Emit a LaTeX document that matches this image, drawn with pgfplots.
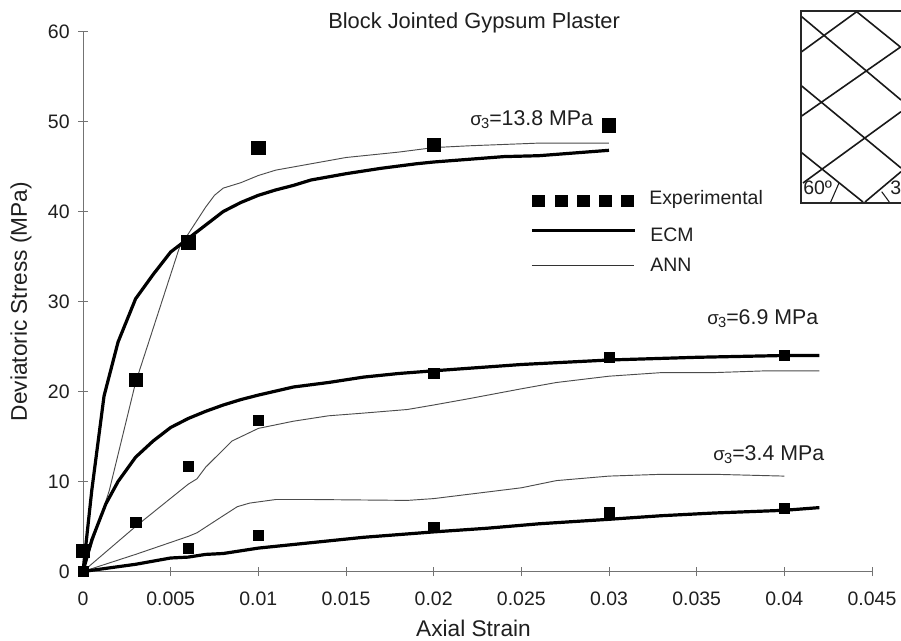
\documentclass[border=0pt]{standalone}
\usepackage{fontspec}
\setmainfont{Liberation Sans}
\usepackage{pgfplots}
\pgfplotsset{compat=1.18}
\definecolor{txt}{gray}{0.12}
\newcommand{\fs}{\fontsize{14.6}{17}\selectfont}
\newcommand{\fl}{\fontsize{16}{18}\selectfont}
\newcommand{\sig}{{\fontsize{14}{16}\selectfont σ\kern-0.5pt\raisebox{-2pt}{\fontsize{11}{12}\selectfont 3}}}
\begin{document}
\begin{tikzpicture}
\clip (0,0) rectangle (675.75pt,480pt);
\fill[white] (0,0) rectangle (675.75pt,480pt);
\begin{axis}[
  at={(62.25pt,51.375pt)},anchor=origin,
  scale only axis,width=591.75pt,height=405pt,
  xmin=0,xmax=0.045,ymin=0,ymax=60,
  axis x line=bottom,axis y line=left,
  axis line style={-,color=black!55,line width=0.7pt},
  tick style={color=black!55,line width=0.7pt},
  tick align=center,major tick length=7pt,
  clip=false,scaled x ticks=false,
  xtick={0,0.005,0.01,0.015,0.02,0.025,0.03,0.035,0.04,0.045},
  xticklabels={0,0.005,0.01,0.015,0.02,0.025,0.03,0.035,0.04,0.045},
  ytick={0,10,20,30,40,50,60},
  /pgf/number format/assume math mode=true,
  ticklabel style={font=\fs,text=txt},
  xticklabel style={yshift=-8pt},
  yticklabel style={xshift=-3pt},
  xlabel={Axial Strain},ylabel={Deviatoric Stress (MPa)},
  label style={font=\fontsize{17}{19}\selectfont,text=txt},
  xlabel style={at={(axis description cs:0.5,0)},anchor=north,yshift=-33pt,xshift=-3pt},
  ylabel style={at={(axis description cs:0,0.5)},anchor=south,yshift=35pt},
]
% ANN
\addplot[black!70,line width=0.7pt] coordinates {(0,0)(0.0015,9)(0.003,21)(0.0045,30)(0.005,33)(0.0055,36)(0.006,37.5)(0.007,40.5)(0.0075,41.8)(0.008,42.6)(0.009,43.2)(0.01,44)(0.011,44.6)(0.013,45.3)(0.015,46)(0.018,46.6)(0.02,47.1)(0.022,47.3)(0.026,47.6)(0.03,47.6)};
\addplot[black!70,line width=0.7pt] coordinates {(0,0)(0.003,5)(0.006,9.7)(0.0065,10.3)(0.007,11.6)(0.0085,14.5)(0.01,15.9)(0.012,16.7)(0.014,17.3)(0.016,17.6)(0.0185,18)(0.02,18.5)(0.022,19.2)(0.025,20.3)(0.027,21)(0.03,21.7)(0.033,22.1)(0.036,22.1)(0.039,22.3)(0.042,22.3)};
\addplot[black!70,line width=0.7pt] coordinates {(0,0)(0.003,1.9)(0.006,3.9)(0.0065,4.3)(0.008,6.2)(0.0088,7.2)(0.0095,7.6)(0.011,8)(0.013,8)(0.0185,7.9)(0.02,8.1)(0.025,9.3)(0.027,10.1)(0.03,10.6)(0.033,10.8)(0.036,10.8)(0.04,10.6)};
% ECM
\addplot[black,line width=2.4pt,line join=round] coordinates {(0,0)(0.0005,9)(0.0012,19.5)(0.002,25.5)(0.003,30.3)(0.004,33)(0.005,35.5)(0.006,37)(0.007,38.5)(0.008,40)(0.009,41)(0.01,41.8)(0.011,42.4)(0.012,42.9)(0.013,43.5)(0.015,44.2)(0.017,44.8)(0.019,45.3)(0.02,45.5)(0.022,45.8)(0.024,46.1)(0.026,46.2)(0.028,46.5)(0.03,46.8)};
\addplot[black,line width=2.4pt,line join=round] coordinates {(0,0)(0.0005,3.5)(0.0013,7.5)(0.002,10)(0.003,12.7)(0.004,14.5)(0.005,16)(0.006,17)(0.007,17.8)(0.008,18.5)(0.009,19.1)(0.01,19.6)(0.012,20.5)(0.014,21)(0.016,21.6)(0.018,22)(0.02,22.3)(0.025,23)(0.03,23.5)(0.035,23.8)(0.04,24)(0.042,24)};
\addplot[black,line width=2.4pt,line join=round] coordinates {(0,0)(0.003,0.8)(0.005,1.5)(0.006,1.6)(0.007,1.9)(0.008,2.0)(0.01,2.6)(0.012,3)(0.014,3.4)(0.016,3.8)(0.018,4.1)(0.02,4.4)(0.023,4.8)(0.026,5.3)(0.03,5.8)(0.033,6.2)(0.036,6.5)(0.04,6.8)(0.042,7.1)};
% Experimental
\addplot[only marks,mark=square*,mark size=5pt,black] coordinates {(0,2.3)(0.003,21.3)(0.006,36.6)(0.01,47.1)(0.02,47.4)(0.03,49.6)};
\addplot[only marks,mark=square*,mark size=3.9pt,black] coordinates {(0,0)(0.003,5.5)(0.006,11.7)(0.01,16.8)(0.02,22)(0.03,23.8)(0.04,24)(0.006,2.6)(0.01,4)(0.02,4.9)(0.03,6.6)(0.04,7)};
% legend samples
\addplot[only marks,mark=square*,mark size=4.4pt,black] coordinates {(0.02595,41.2)(0.02726,41.2)(0.02852,41.2)(0.02977,41.2)(0.03103,41.2)};
\addplot[black,line width=2.6pt] coordinates {(0.0256,37.9)(0.0315,37.9)};
\addplot[black!80,line width=0.8pt] coordinates {(0.0256,34.05)(0.0314,34.05)};
\end{axis}
\begin{scope}[x=0.75pt,y=-0.75pt,shift={(0pt,480pt)}]
\begin{scope}[every node/.style={text=txt,inner sep=0pt,anchor=base west}]
\node[font=\fontsize{16.4}{18}\selectfont] at (328,29) {Block Jointed Gypsum Plaster};
\node[font=\fl] at (470,126) {\sig=13.8 MPa};
\node[font=\fl] at (707,325) {\sig=6.9 MPa};
\node[font=\fl] at (713,461) {\sig=3.4 MPa};
\node[font=\fs] at (649,205) {Experimental};
\node[font=\fs] at (650,242) {ECM};
\node[font=\fs] at (650,272) {ANN};
\end{scope}
% inset
\begin{scope}
\clip (801,10) rectangle (901,203);
\draw[black!90,line width=1.2pt]
 (801.7,16.7) -- (901,100) (801.7,51.7) -- (856.7,11.7) (856.7,11.7) -- (901,47.5)
 (801.7,86) -- (901,168) (801.7,116) -- (901,46.7)
 (801.7,152.7) -- (863,202) (803,183) -- (901,111.7) (865,202) -- (901,171.7);
\draw[black!90,line width=0.8pt] (839,183) -- (830.7,202) (881.7,191.7) -- (889.3,202);
\node[text=txt,font=\fs,inner sep=0pt,anchor=base west] at (803,195) {60º};
\node[text=txt,font=\fs,inner sep=0pt,anchor=base west] at (890,195) {3};
\end{scope}
\draw[black!85,line width=1.5pt] (902,11) -- (801,11) -- (801,203) -- (902,203);
\end{scope}
\end{tikzpicture}
\end{document}
